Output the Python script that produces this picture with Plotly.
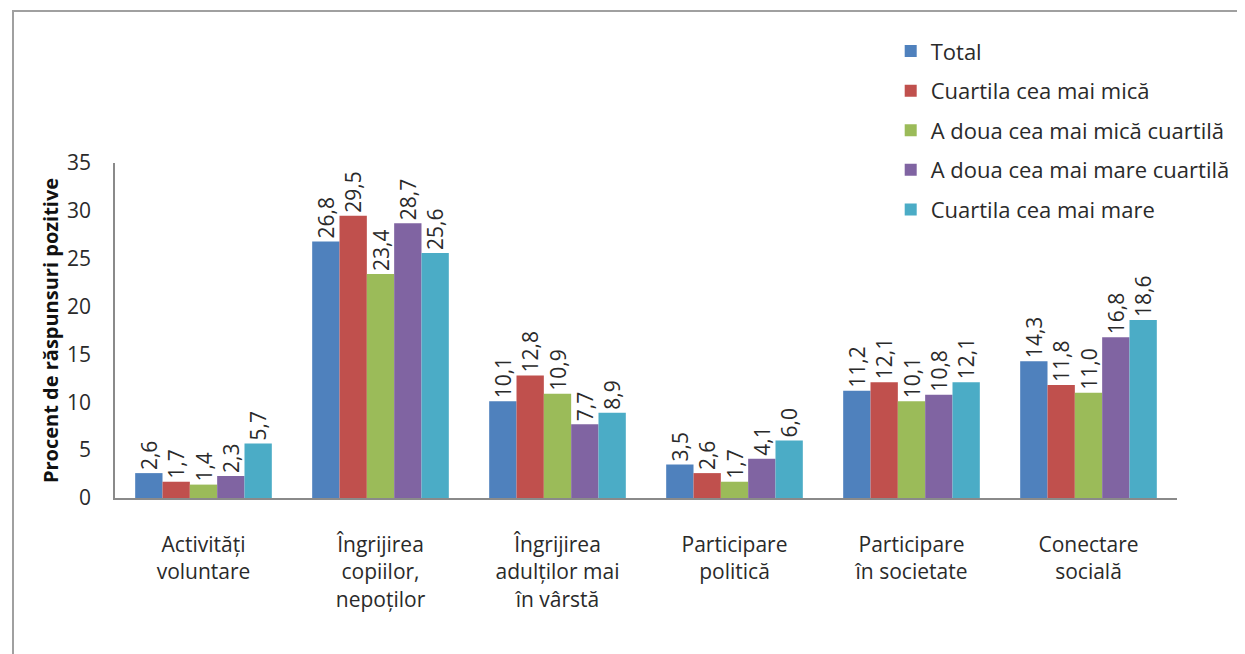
import plotly.graph_objects as go

categories = [
    "Activități<br>voluntare",
    "Îngrijirea<br>copiilor,<br>nepoților",
    "Îngrijirea<br>adulților mai<br>în vârstă",
    "Participare<br>politică",
    "Participare<br>în societate",
    "Conectare<br>socială",
]
series_names = [
    "Total",
    "Cuartila cea mai mică",
    "A doua cea mai mică cuartilă",
    "A doua cea mai mare cuartilă",
    "Cuartila cea mai mare",
]
total = [2.6, 26.8, 10.1, 3.5, 11.2, 14.3]
q_lowest = [1.7, 29.5, 12.8, 2.6, 12.1, 11.8]
q_second_lowest = [1.4, 23.4, 10.9, 1.7, 10.1, 11.0]
q_second_highest = [2.3, 28.7, 7.7, 4.1, 10.8, 16.8]
q_highest = [5.7, 25.6, 8.9, 6.0, 12.1, 18.6]
series_values = [total, q_lowest, q_second_lowest, q_second_highest, q_highest]
colors = ["#4F81BD", "#C0504D", "#9BBB59", "#8064A2", "#4BACC6"]

FONT = "Open Sans"
TXT = "#2a2a2a"
fig = go.Figure()
for i, (name, vals, col) in enumerate(zip(series_names, series_values, colors)):
    fig.add_trace(go.Bar(
        x=categories, y=vals, name=name,
        marker=dict(color=col, line=dict(width=0)),
        texttemplate="%{y:.1f}", textposition="outside", textangle=-90,
        constraintext="none",
        textfont=dict(family=FONT, size=21, color=TXT),
        cliponaxis=False, legendgroup=f"g{i}",
    ))

W, H = 1245, 654
ml, mr, mt, mb = 107, 76, 155, 164
pw, ph = W - ml - mr, H - mt - mb

fig.update_layout(
    width=W, height=H,
    margin=dict(l=ml, r=mr, t=mt, b=mb, autoexpand=False),
    separators=",.",
    barmode="group", bargap=0.228, bargroupgap=0,
    uniformtext=dict(minsize=21, mode="show"),
    plot_bgcolor="white", paper_bgcolor="white",
    font=dict(family=FONT, size=20, color=TXT),
    showlegend=True,
    legend=dict(
        xref="container", yref="container", x=0.709, y=0.966,
        xanchor="left", yanchor="top",
        font=dict(family=FONT, size=22, color=TXT),
        tracegroupgap=8, itemwidth=30,
        bgcolor="rgba(0,0,0,0)",
    ),
    xaxis=dict(
        showline=True, linecolor="#8a8a8a", linewidth=1.5,
        ticks="", tickfont=dict(family=FONT, size=21, color=TXT),
        ticklabelstandoff=27, showgrid=False,
    ),
    yaxis=dict(
        range=[0, 35], dtick=5, showline=True, linecolor="#8a8a8a", linewidth=1.5,
        showgrid=False, zeroline=False, ticks="",
        ticklabelstandoff=18,
        tickfont=dict(family=FONT, size=21, color=TXT),
        title=dict(text="<b>Procent de răspunsuri pozitive</b>",
                   font=dict(family=FONT, size=20, color="#111"), standoff=3),
    ),
    shapes=[dict(
        type="rect", xref="paper", yref="paper",
        x0=(5 - ml) / pw, x1=1.3,
        y0=-0.9, y1=1 + (mt - 3) / ph,
        line=dict(color="#a0a0a0", width=2), layer="below",
    )],
)

fig.write_html("out.html")
